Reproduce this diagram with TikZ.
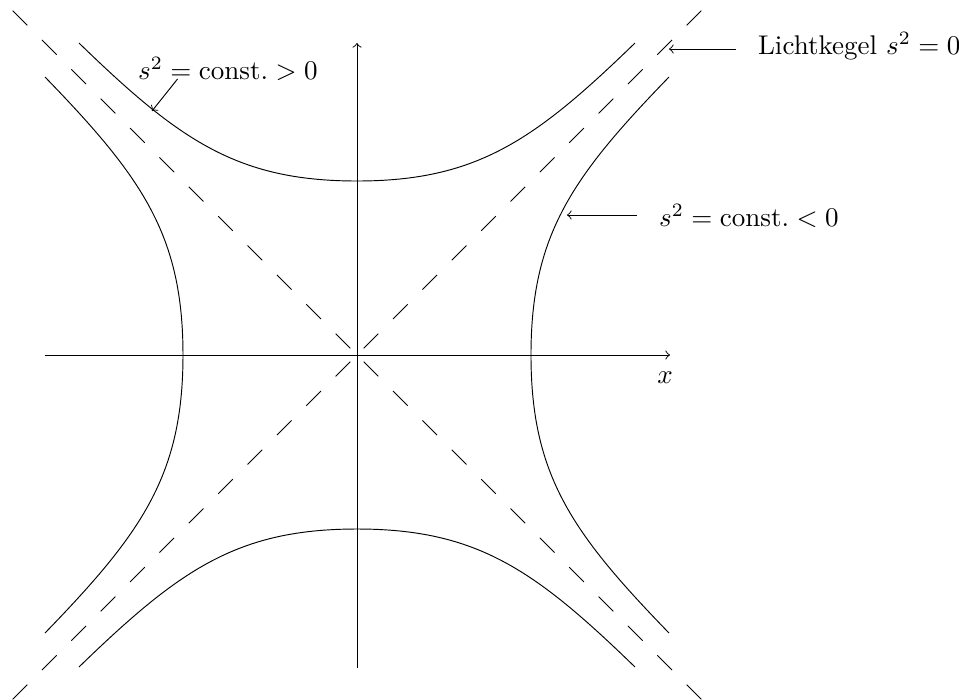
\documentclass[tikz,border=0pt]{standalone}
\usepackage{amsmath}
\usepackage{tikz}
\usetikzlibrary{arrows}

\begin{document}
\begin{tikzpicture}[x=1.3cm,y=1.3cm,line width=0.35pt,
        lightcone/.style={dash pattern=on 7.68pt off 7.68pt, dash phase=11.86pt},
        lbl/.style={inner xsep=8pt, inner ysep=0pt, anchor=base west}]
        \useasboundingbox (-3.57,-3.44) rectangle (6.02,3.55);

        \coordinate (O) at (0,0);
        \coordinate (xl) at (-3.12,0);
        \coordinate (xr) at (3.13,0);
        \coordinate (yb) at (0,-3.13);
        \coordinate (yt) at (0,3.12);
        \draw[->] (xl) -- (xr);
        \draw[->] (yb) -- (yt);
        \node (xlab) at (3.08,-0.23) {\(x\)};

        \foreach \a in {45,135,225,315} {
            \draw[lightcone] (O) -- (\a:4.88);
        }
        \foreach \r in {0,90,180,270} {
            \draw[rotate=\r] (-2.78,3.12) .. controls (-1.78,2.15) and (-1.2,1.74) .. (0,1.74)
                .. controls (1.2,1.74) and (1.78,2.15) .. (2.78,3.12);
        }

        \coordinate (ptime) at (-2.05,2.44);
        \coordinate (pspace) at (2.10,1.40);
        \coordinate (plight) at (3.12,3.06);
        \node[lbl] (lbltime) at (-2.41,2.76) {\(s^2 = \text{const.} > 0\)};
        \node[lbl] (lbllight) at (3.79,3.01) {Lichtkegel \(s^2 = 0\)};
        \node[lbl] (lblspace) at (2.80,1.29) {\(s^2 = \text{const.} < 0\)};
        \draw[->] ([xshift=0.8cm]lbltime.base west) -- (ptime);
        \draw[->] (lbllight.west |- plight) -- (plight);
        \draw[->] (lblspace.west |- pspace) -- (pspace);
    \end{tikzpicture}
\end{document}
